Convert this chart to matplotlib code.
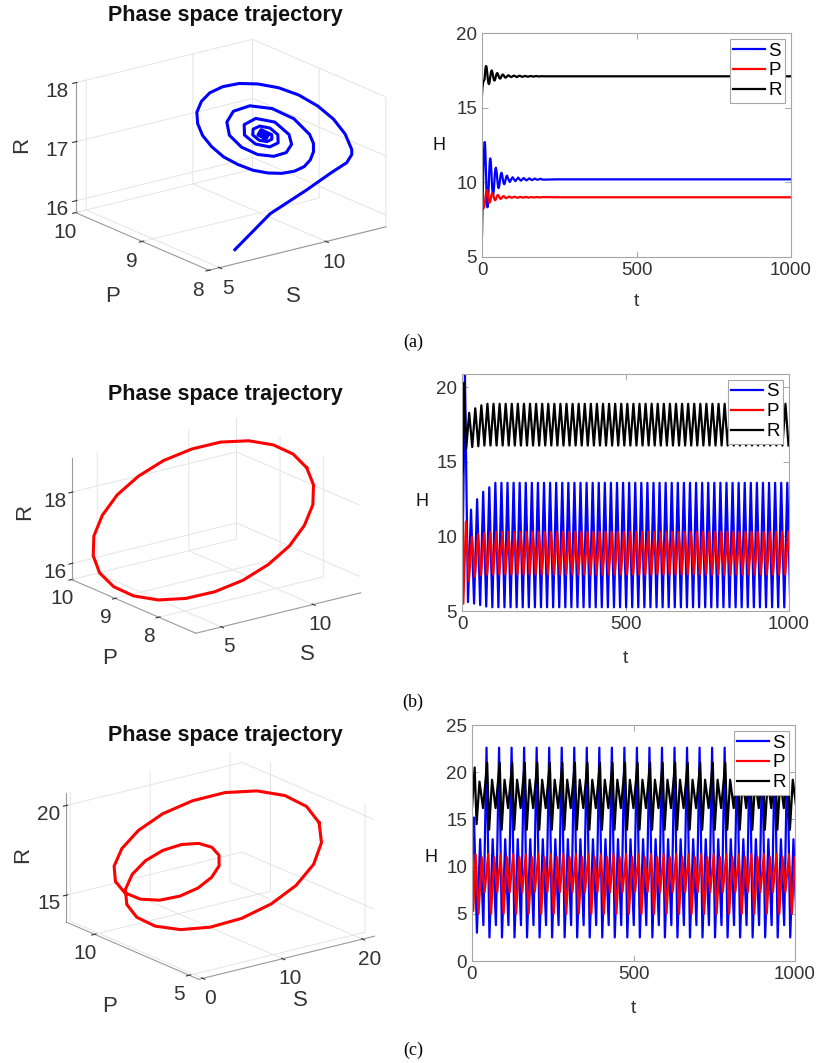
import matplotlib
matplotlib.use('Agg')
import matplotlib.pyplot as plt
import numpy as np

plt.rcParams['font.family'] = ['Liberation Sans', 'DejaVu Sans']

# ---- panel (a): damped spiral to the equilibrium
a_t = [0, 1.5, 3, 4.5, 6, 7.5,
       8.25, 9, 9.75, 10.5, 11.25, 12, 12.75, 13.5, 14.25, 15, 15.75, 16.5, 17.25, 18,
       18.75, 19.5, 20.25, 21, 21.75, 22.5, 23.25, 24, 24.75, 25.5, 26.25, 27,
       28.5, 30, 31.5, 33, 34.5, 36, 37.5, 39, 40.5, 42, 43.5, 45,
       47.25, 49.5, 51.75, 54, 56.25, 58.5, 60.75, 63, 65.25, 67.5, 69.75, 72, 74.25, 76.5, 78.75, 81,
       85.5, 90, 94.5, 99,
       103.5, 108, 112.5, 117, 121.5, 126, 130.5, 135, 139.5, 144, 148.5, 153,
       157.5, 162, 166.5, 171, 175.5, 180, 184.5, 189, 193.5, 198,
       240, 1000]
a_S = [6.5, 8.0, 9.7, 11.0, 11.9, 12.45,
       12.67, 12.70, 12.56, 12.26, 11.84, 11.33, 10.77, 10.20, 9.65, 9.17, 8.78, 8.50, 8.35, 8.33,
       8.44, 8.66, 8.97, 9.35, 9.77, 10.20, 10.61, 10.97, 11.26, 11.47, 11.59, 11.60,
       11.36, 10.84, 10.20, 9.62, 9.25, 9.15, 9.34, 9.72, 10.20, 10.63, 10.91, 10.98,
       10.72, 10.20, 9.75, 9.61, 9.81, 10.20, 10.53, 10.64, 10.49, 10.20, 9.95, 9.87, 9.98, 10.20, 10.39, 10.45,
       10.20, 10.02, 10.20, 10.34,
       10.20, 10.08, 10.20, 10.32, 10.20, 10.11, 10.20, 10.29, 10.20, 10.13, 10.20, 10.27,
       10.20, 10.15, 10.20, 10.25, 10.20, 10.17, 10.20, 10.24, 10.20, 10.18,
       10.20, 10.20]
a_P = [8.25, 8.2, 8.2, 8.25, 8.3, 8.4,
       8.47, 8.58, 8.71, 8.85, 9.00, 9.14, 9.27, 9.37, 9.44, 9.48, 9.48, 9.46, 9.40, 9.32,
       9.22, 9.11, 9.00, 8.89, 8.80, 8.73, 8.67, 8.64, 8.64, 8.66, 8.70, 8.76,
       8.92, 9.08, 9.21, 9.27, 9.25, 9.18, 9.06, 8.94, 8.85, 8.80, 8.81, 8.87,
       9.00, 9.12, 9.15, 9.10, 9.00, 8.91, 8.89, 8.93, 9.00, 9.06, 9.08, 9.06, 9.00, 8.95, 8.94, 8.96,
       9.04, 9.03, 8.97, 8.98,
       9.03, 9.03, 8.97, 8.97, 9.02, 9.02, 8.98, 8.98, 9.02, 9.02, 8.98, 8.98,
       9.01, 9.01, 8.99, 8.99, 9.01, 9.01, 8.99, 8.99, 9.01, 9.01,
       9.00, 9.00]
a_R = [15.85, 16.35, 16.6, 16.75, 16.82, 16.86,
       16.89, 17.10, 17.30, 17.48, 17.63, 17.73, 17.78, 17.79, 17.75, 17.67, 17.56, 17.41, 17.26, 17.10,
       16.95, 16.81, 16.71, 16.63, 16.59, 16.58, 16.61, 16.67, 16.76, 16.87, 16.98, 17.10,
       17.31, 17.45, 17.49, 17.42, 17.28, 17.10, 16.94, 16.84, 16.81, 16.86, 16.97, 17.10,
       17.27, 17.32, 17.24, 17.10, 16.98, 16.94, 16.99, 17.10, 17.19, 17.22, 17.18, 17.10, 17.03, 17.01, 17.04, 17.10,
       17.17, 17.10, 17.05, 17.10,
       17.15, 17.10, 17.05, 17.10, 17.14, 17.10, 17.06, 17.10, 17.13, 17.10, 17.07, 17.10,
       17.12, 17.10, 17.08, 17.10, 17.12, 17.10, 17.09, 17.10, 17.11, 17.10,
       17.10, 17.10]

# ---- panel (b): limit cycle (phase plot samples) and time series extrema
b_loop_S = [12.48, 12.33, 11.89, 11.19, 10.28, 9.22, 8.08, 6.94, 5.88, 4.97, 4.27, 3.83,
            3.68, 3.83, 4.27, 4.97, 5.88, 6.94, 8.08, 9.22, 10.28, 11.19, 11.89, 12.33]
b_loop_P = [8.34, 8.59, 8.86, 9.13, 9.39, 9.60, 9.77, 9.87, 9.91, 9.87, 9.77, 9.60,
            9.39, 9.13, 8.86, 8.59, 8.34, 8.12, 7.95, 7.85, 7.81, 7.85, 7.95, 8.12]
b_loop_R = [18.45, 18.72, 18.89, 18.95, 18.89, 18.72, 18.45, 18.10, 17.69, 17.25, 16.81, 16.40,
            16.05, 15.78, 15.61, 15.55, 15.61, 15.78, 16.05, 16.40, 16.81, 17.25, 17.69, 18.10]

b_period = 18.6
b_S_head_t = [0, 9, 18.3, 27.6, 36.9, 46.2, 55.5, 64.8, 74.1, 83.4, 92.7]
b_S_head = [5.9, 20.9, 5.6, 11.8, 5.5, 12.5, 5.4, 13.0, 5.3, 13.3, 5.25]
b_S_cycle = [13.6, 5.25]
b_P_head_t = [0, 4, 12, 21, 30.3, 39.6, 48.9, 58.2, 67.5, 76.8, 86.1, 95.4]
b_P_head = [14.3, 5.5, 11.0, 7.0, 10.0, 7.3, 10.15, 7.4, 10.25, 7.45, 10.3, 7.45]
b_P_cycle = [10.3, 7.45]
b_R_head_t = [0, 2, 6, 13, 22, 31.3, 40.6, 49.9, 59.2, 68.5, 77.8, 87.1]
b_R_head = [16.1, 14.3, 20.3, 15.9, 18.3, 16.0, 18.6, 16.05, 18.8, 16.1, 18.9, 16.1]
b_R_cycle = [18.9, 16.1]

# ---- panel (c): period-two orbit
c_loop_S = [18.80, 18.41, 17.28, 15.54, 13.37, 10.99, 8.65, 6.59, 4.99, 4.00, 3.67, 3.99,
            4.85, 6.10, 7.54, 8.96, 10.14, 10.93, 11.20, 10.93, 10.14, 8.96, 7.54, 6.10,
            4.85, 3.99, 3.67, 4.00, 4.99, 6.59, 8.65, 10.99, 13.37, 15.54, 17.28, 18.41]
c_loop_P = [6.29, 6.79, 7.45, 8.20, 8.97, 9.68, 10.27, 10.68, 10.88, 10.87, 10.66, 10.30,
            9.84, 9.35, 8.89, 8.53, 8.31, 8.25, 8.37, 8.63, 8.99, 9.40, 9.79, 10.10,
            10.27, 10.27, 10.06, 9.67, 9.12, 8.46, 7.76, 7.09, 6.53, 6.13, 5.94, 6.00]
c_loop_R = [19.31, 20.03, 20.46, 20.57, 20.36, 19.84, 19.10, 18.21, 17.28, 16.41, 15.69, 15.19,
            14.95, 14.98, 15.26, 15.72, 16.29, 16.87, 17.38, 17.73, 17.87, 17.75, 17.40, 16.84,
            16.14, 15.39, 14.68, 14.11, 13.76, 13.69, 13.92, 14.46, 15.26, 16.24, 17.31, 18.37]

c_period = 38.8
c_start = 45
c_S_head_t = [0, 6.2, 15.2, 25.2, 35.2]
c_S_head = [9.5, 15.2, 3.0, 12.9, 3.8]
c_S_off = [0, 9, 19, 29]
c_S_cycle = [22.6, 2.5, 12.9, 3.8]
c_R_head_t = [0, 8.2, 14.2, 23.2, 34.2]
c_R_head = [16.2, 20.5, 14.5, 19.0, 16.2]
c_R_off = [2, 8, 17, 28]
c_R_cycle = [21.0, 13.9, 19.2, 16.2]
c_P_head_t = [0, 4, 11.2, 20.2, 30.2, 39.2]
c_P_head = [14.8, 5.3, 11.3, 5.0, 11.0, 7.3]
c_P_off = [5, 14, 24, 33]
c_P_cycle = [11.3, 5.0, 11.0, 7.3]


def build(head_t, head_v, start, period, offsets, cycle, t_end=1000):
    t = list(head_t)
    v = list(head_v)
    k = 0
    while start + k * period <= t_end:
        for off, val in zip(offsets, cycle):
            t.append(start + k * period + off)
            v.append(val)
        k += 1
    return t, v


fig = plt.figure(figsize=(8.17, 10.63), dpi=100)
W, H = 817, 1063


def phase_plot(rect, s, p, r, color, lims, ticks, closed, zoom, lab_pos):
    ax = fig.add_axes(rect, projection='3d', proj_type='ortho')
    s, p, r = list(s), list(p), list(r)
    if closed:
        s, p, r = s + s[:1], p + p[:1], r + r[:1]
    ax.plot(s, p, r, color=color, lw=2.2, clip_on=False)
    ax.set_xlim(lims[0])
    ax.set_ylim(lims[1])
    ax.set_zlim(lims[2])
    ax.set_xticks(ticks[0])
    ax.set_yticks(ticks[1])
    ax.set_zticks(ticks[2])
    ax.view_init(elev=19, azim=-127)
    ax.set_box_aspect((1, 1, 0.62), zoom=zoom)
    for axis in (ax.xaxis, ax.yaxis, ax.zaxis):
        axis.set_pane_color((1, 1, 1, 0))
        axis.pane.set_edgecolor('#e4e4e4')
        axis._axinfo['grid'].update(color='#e4e4e4', linewidth=0.7)
        axis.line.set_color('#9a9a9a')
        axis.line.set_linewidth(0.8)
    ax.tick_params(labelsize=15, colors='#333333', pad=-2)
    # axis names placed where the reference shows them
    (sx, sy), (px, py), (rx, ry) = lab_pos
    fig.text(sx / W, 1 - sy / H, 'S', fontsize=16, color='#333333', ha='center', va='center')
    fig.text(px / W, 1 - py / H, 'P', fontsize=16, color='#333333', ha='center', va='center')
    fig.text(rx / W, 1 - ry / H, 'R', fontsize=16, color='#333333', ha='center', va='center',
             rotation=90)
    return ax


def time_plot(rect, series, ylim, yticks, hy, hx):
    ax = fig.add_axes(rect)
    for (t, v), c, lab in zip(series, ['#0000ff', '#ff0000', '#000000'], ['S', 'P', 'R']):
        ax.plot(t, v, color=c, lw=1.6, label=lab)
    ax.set_xlim(0, 1000)
    ax.set_ylim(*ylim)
    ax.set_xticks([0, 500, 1000])
    ax.set_yticks(yticks)
    ax.tick_params(direction='in', top=True, right=True, length=4, width=0.7,
                   labelsize=13.5, labelcolor='#333333', color='#a6a6a6')
    for sp in ax.spines.values():
        sp.set_color('#a6a6a6')
        sp.set_linewidth(0.8)
    ax.set_xlabel('t', fontsize=14, color='#333333')
    ax.xaxis.set_label_coords(0.5, -0.2)
    ax.xaxis.label.set_va('center')
    ax.set_ylabel('H', fontsize=13, color='#111111', rotation=0)
    ax.yaxis.set_label_coords(hx, hy)
    ax.yaxis.label.set_va('center')
    leg = ax.legend(loc='upper right', fontsize=13.5, handlelength=1.7, handletextpad=0.15,
                    borderpad=0.2, labelspacing=0.15, borderaxespad=0.3, fancybox=False,
                    framealpha=1)
    leg.get_frame().set_edgecolor('#a6a6a6')
    leg.get_frame().set_linewidth(0.8)
    return ax


# row (a)
phase_plot([0.018, 0.726, 0.52, 0.25], a_S[:-1], a_P[:-1], a_R[:-1], '#0000ff',
           [(4.5, 12.8), (8, 10), (15.8, 18.0)], [[5, 10], [8, 9, 10], [16, 17, 18]], False, 1.25,
           [(293, 297), (113, 297), (22, 145)])
time_plot([482 / W, 1 - 257 / H, 309 / W, 224 / H],
          [(a_t, a_S), (a_t, a_P), (a_t, a_R)], (5, 20), [5, 10, 15, 20], 0.5, -0.14)

# row (b)
phase_plot([0.0, 0.372, 0.52, 0.26], b_loop_S, b_loop_P, b_loop_R, '#ff0000',
           [(3.6, 12.6), (7.15, 10.0), (15.55, 18.95)], [[5, 10], [8, 9, 10], [16, 18]], True, 1.12,
           [(307, 655), (110, 658), (25, 512)])
bS = build(b_S_head_t, b_S_head, 102, b_period, [0, b_period / 2], b_S_cycle)
bP = build(b_P_head_t, b_P_head, 104.7, b_period, [0, b_period / 2], b_P_cycle)
bR = build(b_R_head_t, b_R_head, 96.4, b_period, [0, b_period / 2], b_R_cycle)
time_plot([462 / W, 1 - 611 / H, 327 / W, 237 / H], [bS, bP, bR],
          (5, 20.9), [5, 10, 15, 20], 0.46, -0.122)

# row (c)
phase_plot([0.005, 0.048, 0.52, 0.27], c_loop_S, c_loop_P, c_loop_R, '#ff0000',
           [(-0.5, 21.5), (4.5, 11.5), (13.5, 20.7)], [[0, 10, 20], [5, 10], [15, 20]], True, 1.15,
           [(300, 1000), (110, 1007), (23, 855)])
cS = build(c_S_head_t, c_S_head, c_start, c_period, c_S_off, c_S_cycle)
cP = build(c_P_head_t, c_P_head, c_start, c_period, c_P_off, c_P_cycle)
cR = build(c_R_head_t, c_R_head, c_start, c_period, c_R_off, c_R_cycle)
time_plot([472 / W, 1 - 961 / H, 323 / W, 236 / H], [cS, cP, cR],
          (0, 25), [0, 5, 10, 15, 20, 25], 0.44, -0.127)

# titles and sub-figure labels
for y in [15, 395, 735]:
    fig.text(225 / W, 1 - y / H, 'Phase space trajectory', fontsize=15.5, fontweight='bold',
             ha='center', va='center', color='#111111')
for y, lab in [(342, '(a)'), (702, '(b)'), (1050, '(c)')]:
    fig.text(413 / W, 1 - y / H, lab, fontsize=13, family='Liberation Serif',
             ha='center', va='center')

fig.savefig('out.png', dpi=100, facecolor='white')
